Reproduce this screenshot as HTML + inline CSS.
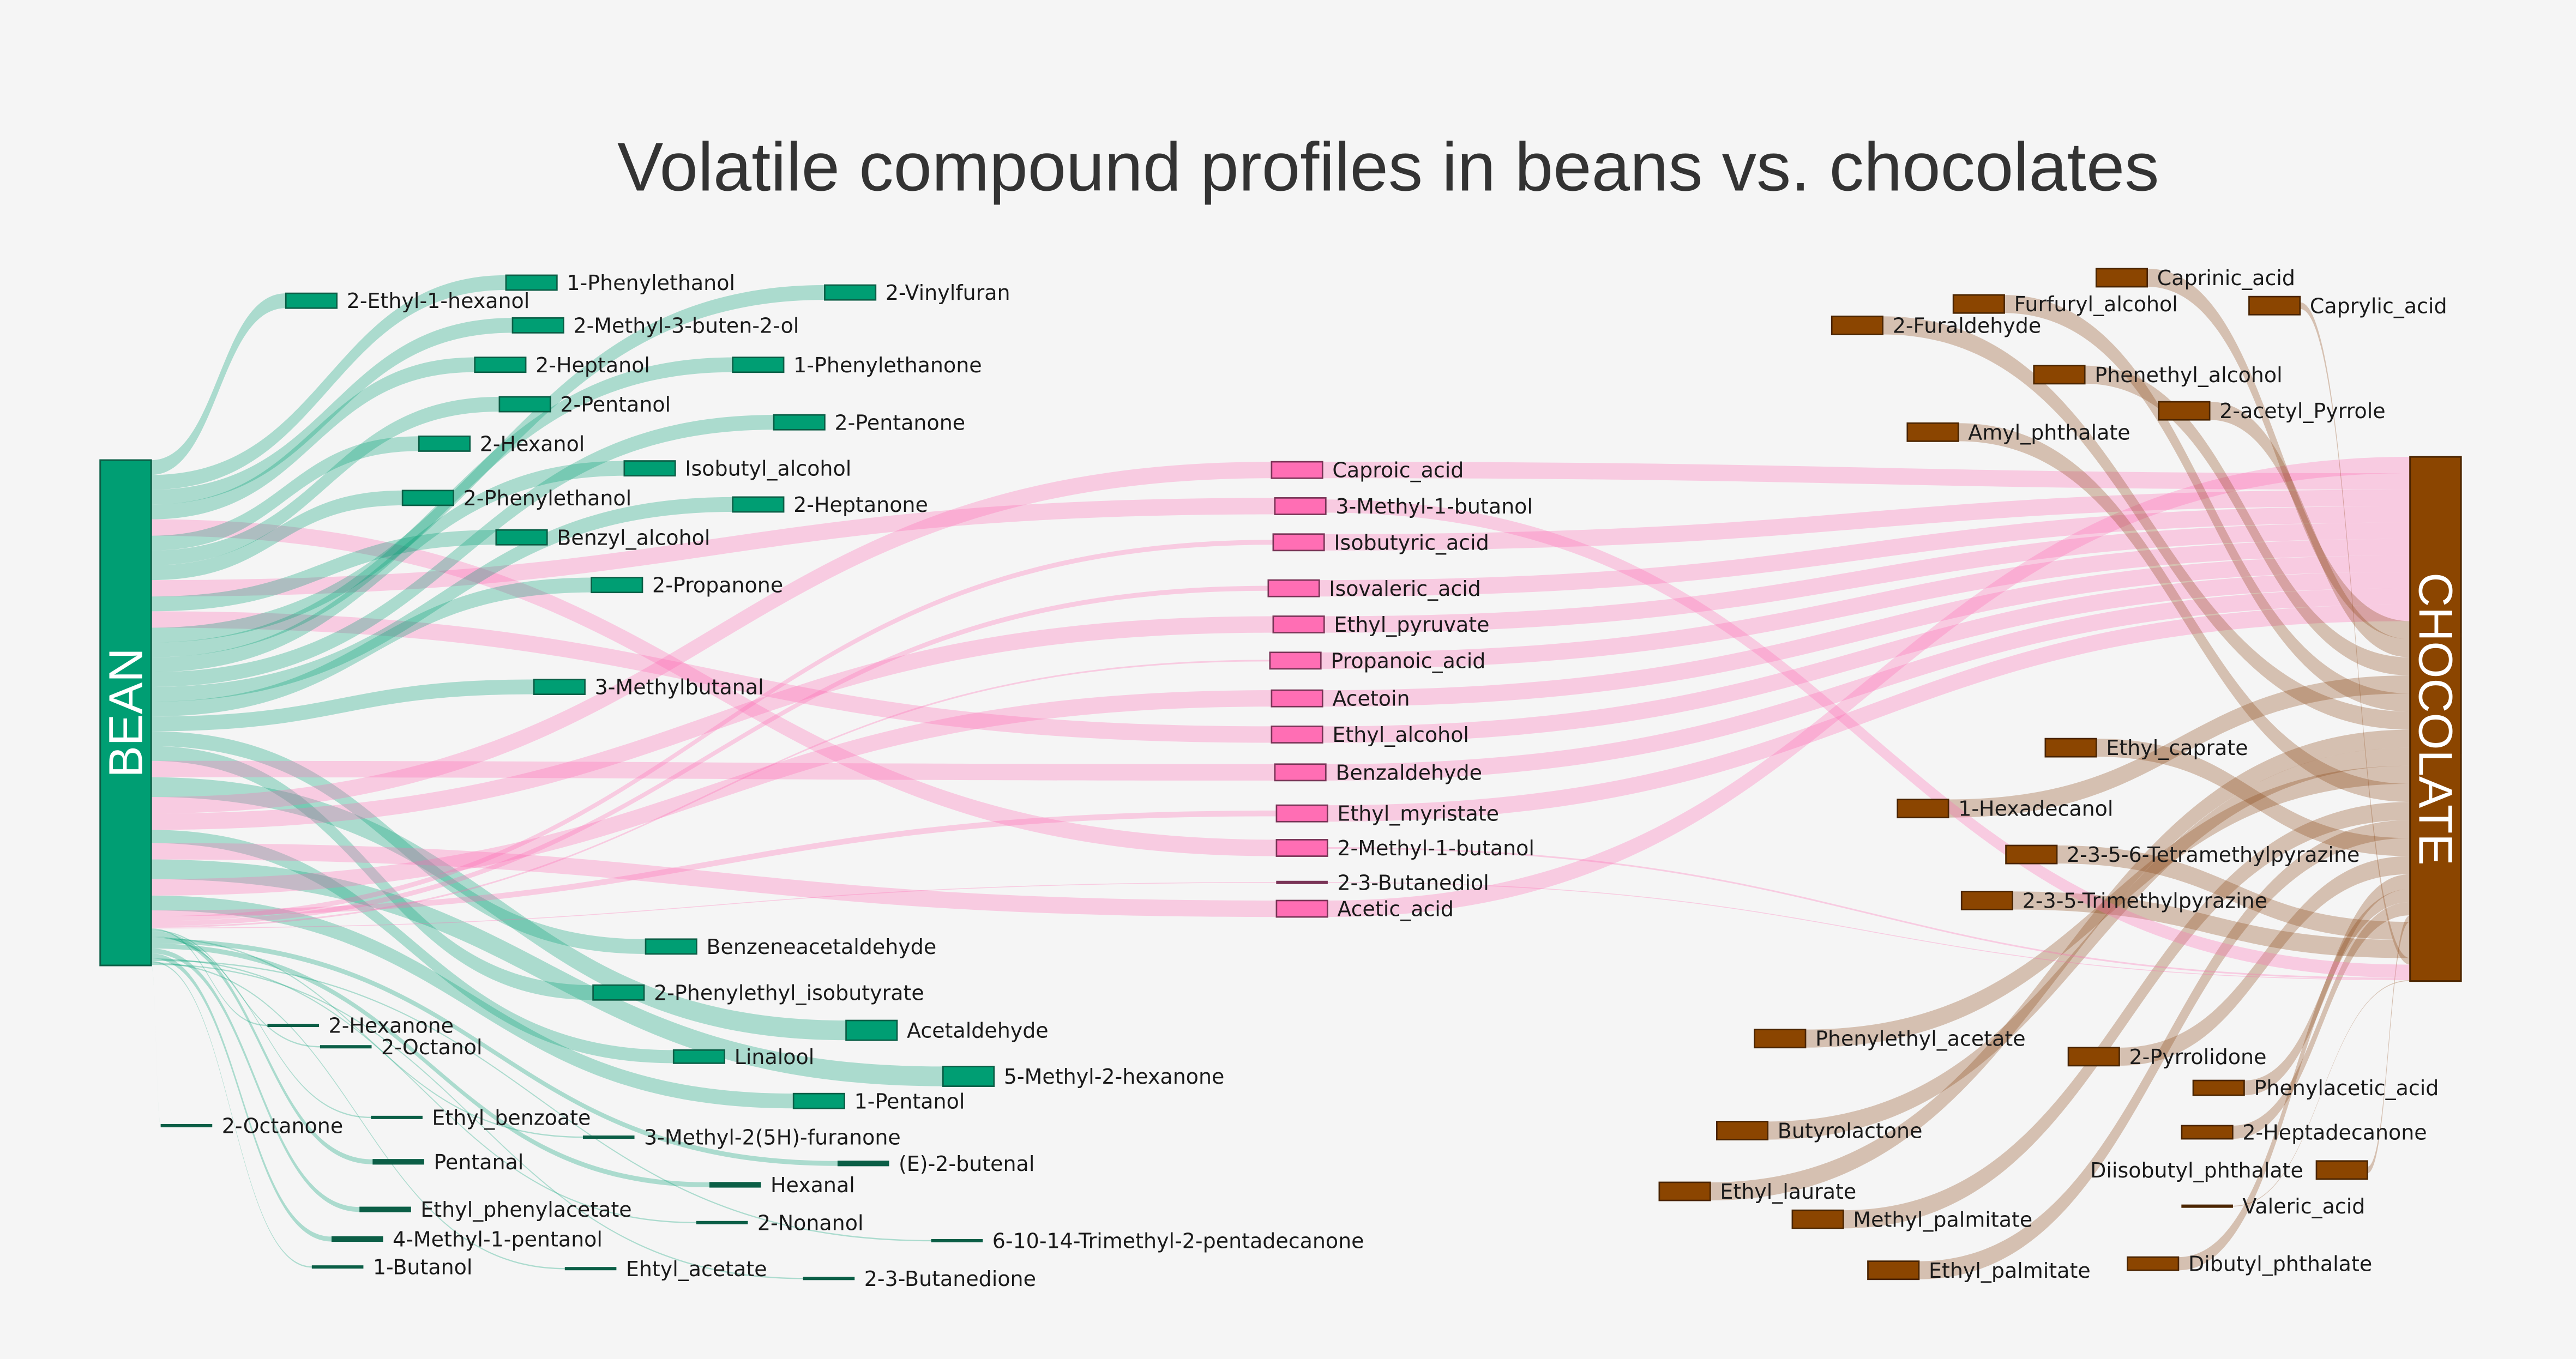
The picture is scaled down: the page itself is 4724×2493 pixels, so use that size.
<!DOCTYPE html>
<html><head><meta charset="utf-8"><title>Volatile compound profiles in beans vs. chocolates</title>
<style>
html,body{margin:0;padding:0;background:#f5f5f5;}
svg{display:block;}
text{font-family:"DejaVu Sans","Liberation Sans",sans-serif;}
</style></head>
<body>
<svg id="chart" xmlns="http://www.w3.org/2000/svg" width="4724" height="2493" viewBox="0 0 1568 827" preserveAspectRatio="none">
<rect x="0" y="0" width="1568" height="827" fill="#f5f5f5"/>
<text x="845" y="116" text-anchor="middle" font-size="42" fill="#333" style="font-family:'Liberation Sans',sans-serif;">Volatile compound profiles in beans vs. chocolates</text>
<g id="links"></g>
<g id="nodes"></g>
<g id="labels"></g>
</svg>
<script>
// ---- data: flows from BEAN (in BEAN stacking order) ----
const beanTargets = ["2-Ethyl-1-hexanol","1-Phenylethanol","2-Methyl-3-buten-2-ol","2-Heptanol","2-Methyl-1-butanol","2-Hexanol","2-Pentanol","2-Phenylethanol","3-Methyl-1-butanol","Benzyl_alcohol","Ethyl_alcohol","2-Vinylfuran","1-Phenylethanone","Isobutyl_alcohol","2-Pentanone","2-Heptanone","2-Propanone","3-Methylbutanal","Benzeneacetaldehyde","2-Phenylethyl_isobutyrate","Benzaldehyde","Acetaldehyde","Caproic_acid","Ethyl_pyruvate","Linalool","Acetic_acid","5-Methyl-2-hexanone","Acetoin","1-Pentanol","Ethyl_myristate","Isobutyric_acid","Isovaleric_acid","Propanoic_acid","2-3-Butanediol","2-Hexanone","2-Octanol","Pentanal","Ethyl_benzoate","3-Methyl-2(5H)-furanone","(E)-2-butenal","Hexanal","Ethyl_phenylacetate","4-Methyl-1-pentanol","2-Nonanol","6-10-14-Trimethyl-2-pentadecanone","1-Butanol","Ehtyl_acetate","2-3-Butanedione","2-Octanone"];
const beanValues = [0.9,0.9,0.9,0.9,1.0,0.9,0.9,0.9,1.0,0.9,1.0,0.9,0.9,0.9,0.9,0.9,0.9,0.9,0.9,0.9,1.0,1.2,1.0,1.0,0.8,1.0,1.2,1.0,0.9,0.35,0.3,0.3,0.1,0.05,0.08,0.08,0.3,0.08,0.08,0.3,0.3,0.3,0.3,0.08,0.08,0.08,0.08,0.08,0.03];
// ---- data: flows into CHOCOLATE (in CHOCOLATE stacking order) ----
const chocSources = ["Acetic_acid","Caproic_acid","Isobutyric_acid","Isovaleric_acid","Ethyl_pyruvate","Propanoic_acid","Acetoin","Ethyl_alcohol","Benzaldehyde","Ethyl_myristate","Caprinic_acid","2-acetyl_Pyrrole","Phenethyl_alcohol","1-Hexadecanol","Furfuryl_alcohol","2-Furaldehyde","Ethyl_laurate","Butyrolactone","Phenylethyl_acetate","Amyl_phthalate","Methyl_palmitate","Ethyl_palmitate","Ethyl_caprate","2-Pyrrolidone","Phenylacetic_acid","Dibutyl_phthalate","2-Heptadecanone","Diisobutyl_phthalate","2-3-5-6-Tetramethylpyrazine","2-3-5-Trimethylpyrazine","Caprylic_acid","3-Methyl-1-butanol","2-Methyl-1-butanol","2-3-Butanediol","Valeric_acid"];
const chocValues = [1.0,1.0,1.0,1.0,1.0,1.0,1.0,1.0,1.0,1.0,1.1,1.1,1.1,1.1,1.1,1.1,1.1,1.1,1.1,1.1,1.1,1.1,1.1,1.1,0.9,0.8,0.8,0.4,1.1,1.1,0.4,0.8,0.1,0.05,0.05];

// ---- layout (positions, not data) ----
const K = 10;
const NW = 31;
const BEAN = {x:61, y:280, w:31};
const CHOC = {x:1467, y:278, w:31};
const layout = {
 "2-Ethyl-1-hexanol":[174,183,"g"],"1-Phenylethanol":[308,172,"g"],"2-Vinylfuran":[502,178,"g"],
 "2-Methyl-3-buten-2-ol":[312,198,"g"],"2-Heptanol":[289,222,"g"],"1-Phenylethanone":[446,222,"g"],
 "2-Pentanol":[304,246,"g"],"2-Pentanone":[471,257,"g"],"2-Hexanol":[255,270,"g"],
 "Isobutyl_alcohol":[380,285,"g"],"2-Phenylethanol":[245,303,"g"],"2-Heptanone":[446,307,"g"],
 "Benzyl_alcohol":[302,327,"g"],"2-Propanone":[360,356,"g"],"3-Methylbutanal":[325,418,"g"],
 "Benzeneacetaldehyde":[393,576,"g"],"2-Phenylethyl_isobutyrate":[361,604,"g"],"Acetaldehyde":[515,627,"g"],
 "Linalool":[410,643,"g"],"5-Methyl-2-hexanone":[574,655,"g"],"1-Pentanol":[483,670,"g"],
 "2-Hexanone":[163,624,"g"],"2-Octanol":[195,637,"g"],"2-Octanone":[98,685,"g"],
 "Ethyl_benzoate":[226,680,"g"],"3-Methyl-2(5H)-furanone":[355,692,"g"],"Pentanal":[227,707,"g"],
 "(E)-2-butenal":[510,708,"g"],"Hexanal":[432,721,"g"],"Ethyl_phenylacetate":[219,736,"g"],
 "2-Nonanol":[424,744,"g"],"4-Methyl-1-pentanol":[202,754,"g"],"6-10-14-Trimethyl-2-pentadecanone":[567,755,"g"],
 "1-Butanol":[190,771,"g"],"Ehtyl_acetate":[344,772,"g"],"2-3-Butanedione":[489,778,"g"],
 "Caproic_acid":[774,286,"p"],"3-Methyl-1-butanol":[776,308,"p"],"Isobutyric_acid":[775,330,"p"],
 "Isovaleric_acid":[772,358,"p"],"Ethyl_pyruvate":[775,380,"p"],"Propanoic_acid":[773,402,"p"],
 "Acetoin":[774,425,"p"],"Ethyl_alcohol":[774,447,"p"],"Benzaldehyde":[776,470,"p"],
 "Ethyl_myristate":[777,495,"p"],"2-Methyl-1-butanol":[777,516,"p"],"2-3-Butanediol":[777,537,"p"],
 "Acetic_acid":[777,553,"p"],
 "Caprinic_acid":[1276,169,"b"],"Caprylic_acid":[1369,186,"b"],"Furfuryl_alcohol":[1189,185,"b"],
 "2-Furaldehyde":[1115,198,"b"],"Phenethyl_alcohol":[1238,228,"b"],"2-acetyl_Pyrrole":[1314,250,"b"],
 "Amyl_phthalate":[1161,263,"b"],"Ethyl_caprate":[1245,455,"b"],"1-Hexadecanol":[1155,492,"b"],
 "2-3-5-6-Tetramethylpyrazine":[1221,520,"b"],"2-3-5-Trimethylpyrazine":[1194,548,"b"],
 "Phenylethyl_acetate":[1068,632,"b"],"2-Pyrrolidone":[1259,643,"b"],"Phenylacetic_acid":[1335,662,"b"],
 "Butyrolactone":[1045,688,"b"],"2-Heptadecanone":[1328,689,"b"],"Diisobutyl_phthalate":[1410,712,"b"],
 "Ethyl_laurate":[1010,725,"b"],"Valeric_acid":[1328,734,"b"],"Methyl_palmitate":[1091,742,"b"],
 "Ethyl_palmitate":[1137,773,"b"],"Dibutyl_phthalate":[1295,769,"b"]
};
const leftLabels = ["Diisobutyl_phthalate"];
const fullBoxes = ["Caprylic_acid","Diisobutyl_phthalate"];
const style = {
 g:{fill:"#009e73",stroke:"#0b5e46",link:"rgba(0,158,115,0.3)"},
 p:{fill:"#ff6eb4",stroke:"#7a3457",link:"rgba(255,105,180,0.3)"},
 b:{fill:"#8b4500",stroke:"#4a2400",link:"rgba(139,69,19,0.3)"}
};
const NS = "http://www.w3.org/2000/svg";
const gLinks = document.getElementById('links');
const gNodes = document.getElementById('nodes');
const gLabels = document.getElementById('labels');
function slug(s){return s.toLowerCase().replace(/[^a-z0-9]+/g,'-').replace(/^-|-$/g,'');}
function band(x0,y0,x1,y1,w,color,name){
  const xm=(x0+x1)/2;
  const d=`M${x0},${y0} C${xm},${y0} ${xm},${y1} ${x1},${y1} L${x1},${y1+w} C${xm},${y1+w} ${xm},${y0+w} ${x0},${y0+w} Z`;
  const p=document.createElementNS(NS,'path');
  p.setAttribute('d',d);p.setAttribute('fill',color);
  
  
  gLinks.appendChild(p);
}
const inV={}, outV={};
beanTargets.forEach((t,i)=>{inV[t]=(inV[t]||0)+beanValues[i];});
chocSources.forEach((s,i)=>{outV[s]=(outV[s]||0)+chocValues[i];});
function nodeH(n){
  let h=Math.max(Math.max(inV[n]||0,outV[n]||0)*K,1.6);
  if(fullBoxes.indexOf(n)>=0) h=11;
  return h;
}
function nodeYc(n){return layout[n][1];}
let yb=BEAN.y;
beanTargets.forEach((t,i)=>{
  const w=beanValues[i]*K; const L=layout[t];
  const y1=nodeYc(t)-w/2;
  band(BEAN.x+BEAN.w,yb,L[0],y1,w,style[L[2]].link,'link-bean-'+slug(t));
  yb+=w;
});
const beanH=yb-BEAN.y;
let yc=CHOC.y;
chocSources.forEach((s,i)=>{
  const w=chocValues[i]*K; const L=layout[s];
  const y0=nodeYc(s)-w/2;
  band(L[0]+NW,y0,CHOC.x,yc,w,style[L[2]].link,'link-'+slug(s)+'-chocolate');
  yc+=w;
});
const chocH=yc-CHOC.y;
Object.keys(layout).forEach(n=>{
  const L=layout[n], h=nodeH(n), st=style[L[2]];
  const r=document.createElementNS(NS,'rect');
  r.setAttribute('x',L[0]);r.setAttribute('y',L[1]-h/2);r.setAttribute('width',NW);r.setAttribute('height',h);
  r.setAttribute('fill',h>4?st.fill:st.stroke);r.setAttribute('stroke',st.stroke);r.setAttribute('stroke-width',h>4?0.9:0.4);
  
  
  gNodes.appendChild(r);
  const t=document.createElementNS(NS,'text');
  const left=leftLabels.indexOf(n)>=0;
  t.setAttribute('x',left?L[0]-8:L[0]+NW+6);t.setAttribute('y',L[1]+4.5);
  t.setAttribute('font-size','12.6');t.setAttribute('fill','#1a1a1a');
  if(left)t.setAttribute('text-anchor','end');
  t.textContent=n;
  
  
  gLabels.appendChild(t);
});
function bigNode(o,h,fill,stroke,label,rot,name){
  const r=document.createElementNS(NS,'rect');
  r.setAttribute('x',o.x);r.setAttribute('y',o.y);r.setAttribute('width',o.w);r.setAttribute('height',h);
  r.setAttribute('fill',fill);r.setAttribute('stroke',stroke);r.setAttribute('stroke-width','1');
  
  
  gNodes.appendChild(r);
  const cx=o.x+o.w/2, cy=o.y+h/2;
  const t=document.createElementNS(NS,'text');
  t.setAttribute('x',cx);t.setAttribute('y',cy);
  t.setAttribute('text-anchor','middle');t.setAttribute('dominant-baseline','central');
  t.setAttribute('font-size','29');t.setAttribute('fill','#ffffff');
  t.setAttribute('style',"font-family:'Liberation Sans',sans-serif");
  t.setAttribute('transform',`rotate(${rot} ${cx} ${cy})`);
  t.textContent=label;
  
  
  gLabels.appendChild(t);
}
bigNode(BEAN,beanH,"#009e73","#0b5e46","BEAN",-90,'bean');
bigNode(CHOC,chocH,"#8b4500","#4a2400","CHOCOLATE",90,'chocolate');
</script>
</body></html>
